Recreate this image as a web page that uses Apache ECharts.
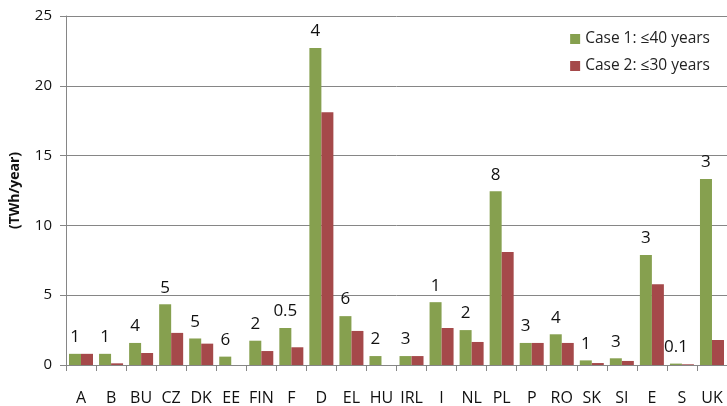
<!DOCTYPE html>
<html>
<head>
<meta charset="utf-8">
<script src="https://cdn.jsdelivr.net/npm/echarts@6/dist/echarts.min.js"></script>
<style>
  html, body { margin: 0; padding: 0; background: #fff; }
  #chart { width: 727px; height: 406px; }
</style>
</head>
<body>
<div id="chart"></div>
<script>
// Categorias (países)
const countries = ['A', 'B', 'BU', 'CZ', 'DK', 'EE', 'FIN', 'F', 'D', 'EL', 'HU', 'IRL', 'I', 'NL', 'PL', 'P', 'RO', 'SK', 'SI', 'E', 'S', 'UK'];
// Case 1: ≤40 years
const case1 = [0.8, 0.8, 1.58, 4.35, 1.9, 0.6, 1.74, 2.65, 22.7, 3.5, 0.64, 0.64, 4.5, 2.5, 12.45, 1.58, 2.2, 0.33, 0.48, 7.88, 0.1, 13.32];
// Case 2: ≤30 years
const case2 = [0.8, 0.12, 0.86, 2.3, 1.53, 0, 1.0, 1.27, 18.1, 2.44, 0, 0.64, 2.65, 1.65, 8.1, 1.58, 1.58, 0.14, 0.29, 5.78, 0.05, 1.79];
// Rótulos acima das barras
const topLabels = ['1', '1', '4', '5', '5', '6', '2', '0.5', '4', '6', '2', '3', '1', '2', '8', '3', '4', '1', '3', '3', '0.1', '3'];
const yTicks = [0, 5, 10, 15, 20, 25];

const font = 'Open Sans';
const gray = '#868686';

const myChart = echarts.init(document.getElementById('chart'));
myChart.setOption({
  backgroundColor: '#fff',
  animation: false,
  textStyle: { fontFamily: font },
  grid: { left: 66, right: -2, top: 16, bottom: 41 },
  legend: {
    orient: 'vertical',
    right: 12,
    top: 26,
    itemWidth: 10,
    itemHeight: 10,
    itemGap: 11,
    icon: 'rect',
    textStyle: { fontFamily: font, fontSize: 15.5, color: '#222' },
    data: ['Case 1: ≤40 years', 'Case 2: ≤30 years']
  },
  xAxis: {
    type: 'category',
    data: countries,
    axisLine: { lineStyle: { color: gray } },
    axisTick: { show: true, length: 6, lineStyle: { color: gray } },
    axisLabel: { color: '#111', fontSize: 16, margin: 25, interval: 0 }
  },
  yAxis: {
    type: 'value',
    min: 0,
    max: 25,
    interval: 5,
    name: '(TWh/year)',
    nameLocation: 'middle',
    nameGap: 44,
    nameTextStyle: { fontFamily: font, fontWeight: 'bold', fontSize: 14, color: '#111' },
    axisLine: { show: true, lineStyle: { color: gray } },
    axisTick: { show: true, length: 6, lineStyle: { color: gray } },
    axisLabel: {
      color: '#111', fontSize: 15, margin: 14,
      formatter: v => yTicks.includes(v) ? String(v) : ''
    },
    splitLine: { lineStyle: { color: gray } }
  },
  series: [
    {
      name: 'Case 1: ≤40 years',
      type: 'bar',
      data: case1,
      barWidth: 12,
      barGap: '0%',
      itemStyle: { color: '#86A04F' },
      label: {
        show: true,
        position: 'top',
        distance: 8,
        fontSize: 17,
        color: '#111',
        formatter: p => topLabels[p.dataIndex]
      }
    },
    {
      name: 'Case 2: ≤30 years',
      type: 'bar',
      data: case2,
      barWidth: 12,
      barGap: '0%',
      itemStyle: { color: '#A5494A' }
    }
  ]
});
window.addEventListener('resize', () => myChart.resize());
</script>
</body>
</html>
